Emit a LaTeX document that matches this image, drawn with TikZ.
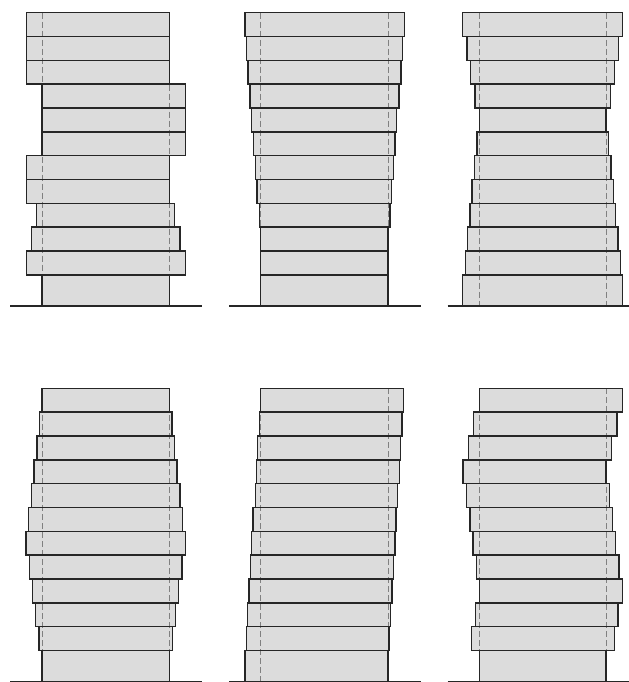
\documentclass[tikz,border=0pt]{standalone}
\usepackage{tikz}
\definecolor{boxgray}{HTML}{DCDCDC}
\definecolor{edgegray}{HTML}{262626}
\definecolor{dashgray}{HTML}{808080}
\tikzset{
  boxfill/.style={fill=boxgray},
  boxedge/.style={draw=edgegray, line width=1.5pt},
  dashline/.style={draw=dashgray, line width=1pt, dash pattern=on 6pt off 3pt},
  groundline/.style={draw=edgegray, line width=1.2pt}
}
\newcommand\drawstack[8]{%
  \begin{scope}[shift={(#1,#2)}]
    \foreach \l/\r [count=\i from 0] in {#3} {
      \pgfmathsetmacro\ya{\i*71.5}
      \pgfmathsetmacro\yb{\i<11 ? (\i+1)*71.5 : 880}
      \path[boxfill] (\l,\ya) rectangle (\r,\yb);
    }
    \draw[dashline] (#4,0) -- (#4,880);
    \draw[dashline] (#5,0) -- (#5,880);
    \foreach \l/\r [count=\i from 0] in {#3} {
      \pgfmathsetmacro\ya{\i*71.5}
      \pgfmathsetmacro\yb{\i<11 ? (\i+1)*71.5 : 880}
      \ifnum\i<11
        \path[boxedge] (\l,\ya) rectangle (\r,\yb);
      \else
        \path[boxedge] (\l,\yb) -- (\l,\ya) -- (\r,\ya) -- (\r,\yb);
      \fi
    }
    \draw[groundline] (#6,880) -- (#7,880);
  \end{scope}%
}
\begin{document}
\begin{tikzpicture}[x=0.3333pt, y=-0.3333pt]
\useasboundingbox (0,0) rectangle (1887,2046);
% top row
\drawstack{0}{38}{80/508,80/508,80/508,126/556,126/556,126/556,80/508,80/508,110/523,95/540,80/556,126/508}{126}{508}{30}{605}{}
\drawstack{630}{38}{105/583,110/577,114/573,120/567,125/560,130/555,136/550,141/545,148/540,152/534,152/534,152/534}{152}{534}{57}{633}{}
\drawstack{1260}{38}{128/607,141/595,152/583,165/572,178/558,171/566,163/573,156/580,150/587,143/594,136/601,128/607}{178}{560}{83}{627}{}
% bottom row
\drawstack{0}{1165}{126/508,119/516,111/524,102/531,94/540,86/548,78/556,88/546,98/536,107/526,117/518,126/508}{126}{508}{30}{605}{}
\drawstack{630}{1165}{152/580,148/576,143/572,139/568,136/563,129/558,125/555,121/551,117/546,112/542,109/537,105/534}{152}{534}{57}{633}{}
\drawstack{1260}{1165}{178/607,161/591,146/575,129/558,139/568,150/578,159/587,169/597,178/607,167/594,154/583,178/558}{178}{560}{83}{627}{}
\end{tikzpicture}
\end{document}
